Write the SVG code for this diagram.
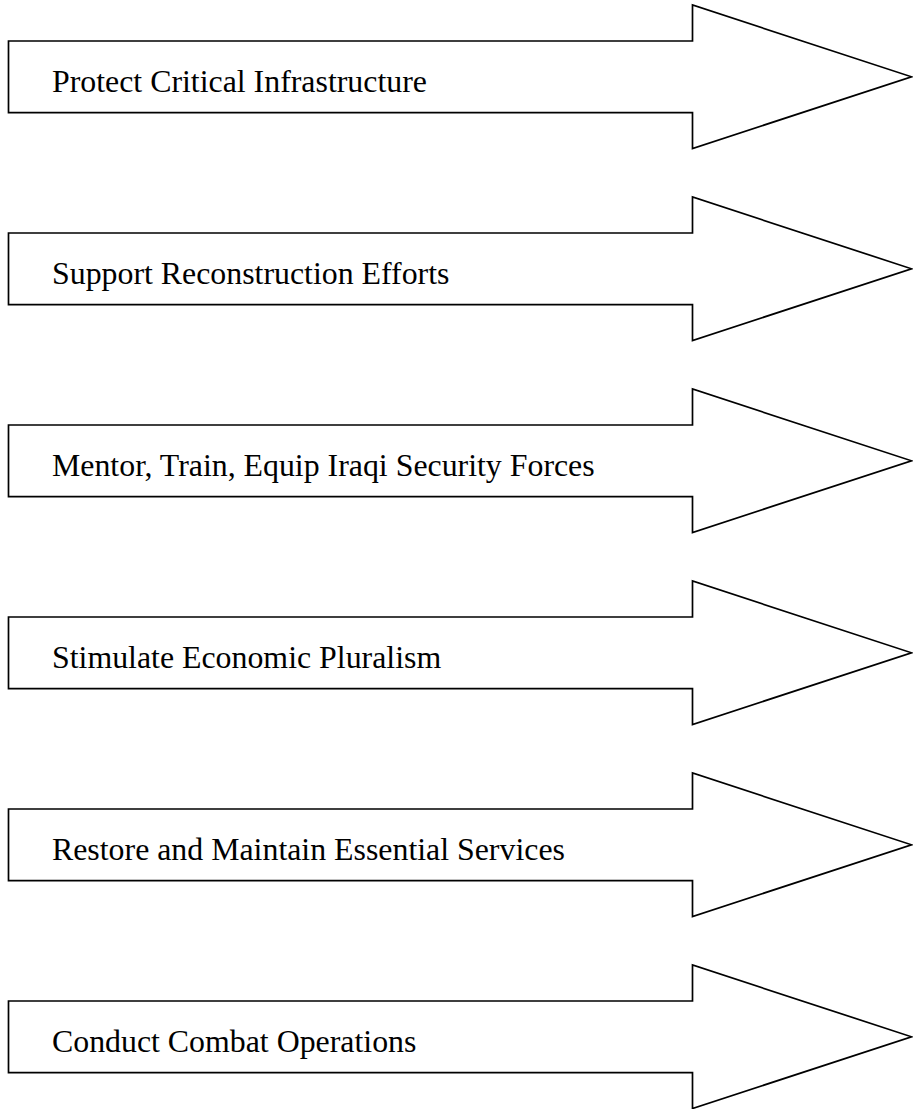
<svg xmlns="http://www.w3.org/2000/svg" width="913" height="1109" viewBox="0 0 913 1109">
<defs>
<style>
.arrow{fill:#ffffff;stroke:#000000;stroke-width:1.7;stroke-linejoin:miter}
.lbl{font-family:"Liberation Serif","Times New Roman",serif;font-size:31.85px;fill:#000000}
</style>
<path id="shape" class="arrow" d="M8.5,41 H692.5 V5 L911.5,76.8 L692.5,148.5 V112.7 H8.5 Z"/>
</defs>
<rect width="913" height="1109" fill="#ffffff"/>
<g id="connectors"></g>
<g id="node1">
<use href="#shape"/>
<text class="lbl" x="52" y="92.3">Protect Critical Infrastructure</text>
</g>
<g id="node2" transform="translate(0,192)">
<use href="#shape"/>
<text class="lbl" x="52" y="92.3">Support Reconstruction Efforts</text>
</g>
<g id="node3" transform="translate(0,384)">
<use href="#shape"/>
<text class="lbl" x="52" y="92.3">Mentor, Train, Equip Iraqi Security Forces</text>
</g>
<g id="node4" transform="translate(0,576)">
<use href="#shape"/>
<text class="lbl" x="52" y="92.3">Stimulate Economic Pluralism</text>
</g>
<g id="node5" transform="translate(0,768)">
<use href="#shape"/>
<text class="lbl" x="52" y="92.3">Restore and Maintain Essential Services</text>
</g>
<g id="node6" transform="translate(0,960)">
<use href="#shape"/>
<text class="lbl" x="52" y="92.3">Conduct Combat Operations</text>
</g>
</svg>
